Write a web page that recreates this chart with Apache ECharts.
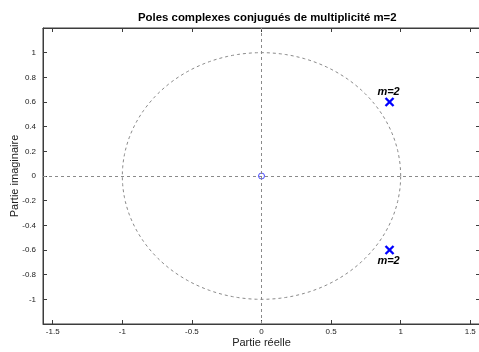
<!DOCTYPE html>
<html>
<head>
<meta charset="utf-8">
<script src="https://cdn.jsdelivr.net/npm/echarts@6/dist/echarts.min.js"></script>
<style>
html,body{margin:0;padding:0;background:#fff;}
#chart{width:479px;height:352px;}
</style>
</head>
<body>
<div id="chart"></div>
<script>
// Axis ranges and ticks
const xRange = [-1.57, 1.57];
const yRange = [-1.2, 1.2];
const xTicks = [-1.5, -1, -0.5, 0, 0.5, 1, 1.5];
const yTicks = [-1, -0.8, -0.6, -0.4, -0.2, 0, 0.2, 0.4, 0.6, 0.8, 1];

// Poles (real, imaginary) and their multiplicity labels
const poleRe = [0.92, 0.92];
const poleIm = [0.6, -0.6];
const poleLabels = ['m=2', 'm=2'];

// Zeros
const zeroRe = [0];
const zeroIm = [0];

// Unit circle radius
const circleRadius = [1];

const FONT = 'Liberation Sans, Arial, Helvetica, sans-serif';
const axisColor = '#3c3c3c';
const dashColor = '#8a8a8a';

const chart = echarts.init(document.getElementById('chart'));

const tickLabelFmt = v => {
  const r = Math.round(v * 10) / 10;
  return String(r);
};

const baseAxis = {
  axisLine: { show: true, onZero: false, lineStyle: { color: axisColor, width: 1 } },
  splitLine: { show: false }
};

chart.setOption({
  animation: false,
  backgroundColor: '#fff',
  title: {
    text: 'Poles complexes conjugués de multiplicité m=2',
    left: 133, top: 7,
    textStyle: { fontFamily: FONT, fontSize: 11.4, fontWeight: 'bold', color: '#000' }
  },
  grid: {
    left: 43, top: 28, width: 437, height: 296,
    outerBoundsMode: 'none', containLabel: false,
    show: true, borderColor: axisColor, borderWidth: 1, backgroundColor: 'transparent'
  },
  xAxis: [
    Object.assign({}, baseAxis, {
      type: 'value', min: xRange[0], max: xRange[1], position: 'bottom',
      name: 'Partie réelle', nameLocation: 'middle', nameGap: 13, nameMoveOverlap: false,
      nameTextStyle: { fontFamily: FONT, fontSize: 11, color: '#222' },
      axisLabel: {
        fontFamily: FONT, fontSize: 8, color: '#222', margin: 4,
        customValues: xTicks, formatter: tickLabelFmt
      },
      axisTick: { show: true, inside: true, length: 4, lineStyle: { color: axisColor }, customValues: xTicks }
    }),
    Object.assign({}, baseAxis, {
      type: 'value', min: xRange[0], max: xRange[1], position: 'top',
      axisLabel: { show: false, customValues: xTicks },
      axisTick: { show: true, inside: true, length: 4, lineStyle: { color: axisColor }, customValues: xTicks }
    })
  ],
  yAxis: [
    Object.assign({}, baseAxis, {
      type: 'value', min: yRange[0], max: yRange[1], position: 'left',
      name: 'Partie imaginaire', nameLocation: 'middle', nameGap: 23, nameMoveOverlap: false,
      nameTextStyle: { fontFamily: FONT, fontSize: 11, color: '#222' },
      axisLabel: {
        fontFamily: FONT, fontSize: 8, color: '#222', margin: 7,
        customValues: yTicks, formatter: tickLabelFmt
      },
      axisTick: { show: true, inside: true, length: 4, lineStyle: { color: axisColor }, customValues: yTicks }
    }),
    Object.assign({}, baseAxis, {
      type: 'value', min: yRange[0], max: yRange[1], position: 'right',
      axisLabel: { show: false, customValues: yTicks },
      axisTick: { show: true, inside: true, length: 4, lineStyle: { color: axisColor }, customValues: yTicks }
    })
  ],
  series: [
    {
      // unit circle, traced through the axis scales
      type: 'custom',
      xAxisIndex: 0, yAxisIndex: 0,
      data: circleRadius.map(r => [0, 0, r]),
      silent: true,
      renderItem: (params, api) => {
        const r = api.value(2);
        const pts = [];
        for (let i = 0; i <= 180; i++) {
          const a = (i / 180) * Math.PI * 2;
          pts.push(api.coord([r * Math.cos(a), r * Math.sin(a)]));
        }
        return {
          type: 'polyline',
          shape: { points: pts },
          style: { stroke: dashColor, lineWidth: 1, lineDash: [3, 3], fill: null }
        };
      },
      markLine: {
        silent: true, symbol: 'none', label: { show: false },
        lineStyle: { color: dashColor, type: [3, 3], width: 1 },
        data: [{ xAxis: 0 }, { yAxis: 0 }]
      },
      z: 1
    },
    {
      // zeros
      type: 'scatter',
      xAxisIndex: 0, yAxisIndex: 0,
      data: zeroRe.map((x, i) => [x, zeroIm[i]]),
      symbol: 'circle', symbolSize: 6,
      itemStyle: { color: 'rgba(0,0,0,0)', borderColor: '#2020ff', borderWidth: 1 },
      z: 3
    },
    {
      // poles drawn as crosses with multiplicity label
      type: 'custom',
      xAxisIndex: 0, yAxisIndex: 0,
      data: poleRe.map((x, i) => [x, poleIm[i], i]),
      renderItem: (params, api) => {
        const p = api.coord([api.value(0), api.value(1)]);
        const idx = api.value(2);
        const h = 4;
        const above = api.value(1) >= 0;
        const stroke = { stroke: '#0000ff', lineWidth: 2.4 };
        return {
          type: 'group',
          children: [
            { type: 'line', shape: { x1: p[0] - h, y1: p[1] - h, x2: p[0] + h, y2: p[1] + h }, style: stroke },
            { type: 'line', shape: { x1: p[0] - h, y1: p[1] + h, x2: p[0] + h, y2: p[1] - h }, style: stroke },
            {
              type: 'text',
              x: p[0] - 1, y: above ? p[1] - 10 : p[1] + 11,
              style: {
                text: poleLabels[idx], fill: '#000',
                font: 'italic bold 11px ' + FONT,
                align: 'center', verticalAlign: 'middle'
              }
            }
          ]
        };
      },
      z: 4
    }
  ]
});
</script>
</body>
</html>
